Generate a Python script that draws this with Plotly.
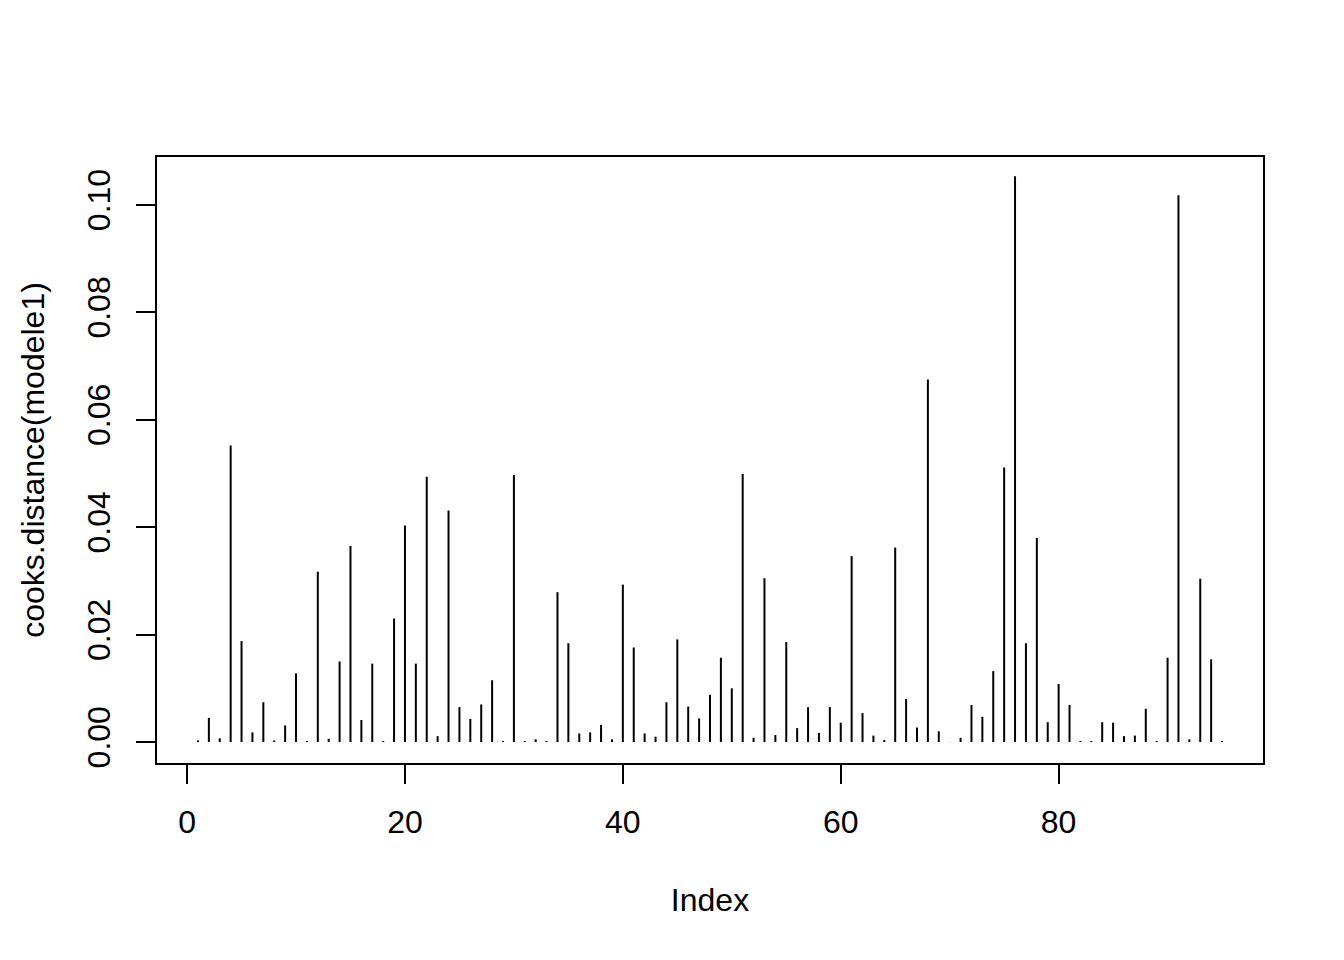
import plotly.graph_objects as go

index = list(range(1, 96))
cooks = [
    0.0003, 0.0045, 0.0007, 0.0552, 0.0188, 0.0018, 0.0074, 0.0003, 0.0031, 0.0128,
    0.0002, 0.0317, 0.0006, 0.0150, 0.0365, 0.0041, 0.0146, 0.0002, 0.0230, 0.0403,
    0.0146, 0.0494, 0.0011, 0.0431, 0.0065, 0.0043, 0.0070, 0.0115, 0.0002, 0.0497,
    0.0002, 0.0005, 0.0002, 0.0279, 0.0184, 0.0016, 0.0018, 0.0032, 0.0005, 0.0293,
    0.0176, 0.0016, 0.0010, 0.0074, 0.0191, 0.0066, 0.0044, 0.0088, 0.0157, 0.0100,
    0.0499, 0.0008, 0.0305, 0.0013, 0.0186, 0.0026, 0.0065, 0.0017, 0.0065, 0.0036,
    0.0346, 0.0054, 0.0012, 0.0004, 0.0362, 0.0080, 0.0027, 0.0675, 0.0020, 0.00003,
    0.0008, 0.0069, 0.0047, 0.0132, 0.0511, 0.1053, 0.0184, 0.0380, 0.0037, 0.0108,
    0.0069, 0.0002, 0.0002, 0.0037, 0.0036, 0.0011, 0.0012, 0.0062, 0.0002, 0.0157,
    0.1018, 0.0005, 0.0304, 0.0154, 0.0002,
]
x_ticks = [0, 20, 40, 60, 80]
y_ticks = [0.00, 0.02, 0.04, 0.06, 0.08, 0.10]
x_label = "Index"
y_label = "cooks.distance(modele1)"

xs, ys = [], []
for i, v in zip(index, cooks):
    xs += [i, i, None]
    ys += [0, v, None]

fig = go.Figure(go.Scatter(x=xs, y=ys, mode="lines",
                           line=dict(color="black", width=2),
                           hoverinfo="skip", showlegend=False))

font = dict(family="Liberation Sans, Arial, Helvetica, sans-serif", size=32, color="black")
axis_common = dict(showline=True, mirror=True, linecolor="black", linewidth=1.8,
                   ticks="outside", ticklen=19, tickwidth=1.8, tickcolor="black",
                   showgrid=False, zeroline=False, tickfont=font)

fig.update_layout(
    width=1344, height=960,
    margin=dict(l=149, r=89, t=149, b=205),
    paper_bgcolor="white", plot_bgcolor="white",
    font=font,
    xaxis=dict(range=[-2.76, 98.76], tickvals=x_ticks, ticktext=[str(t) for t in x_ticks],
               ticklabelstandoff=11,
               title=dict(text=x_label, font=font, standoff=49), **axis_common),
    yaxis=dict(range=[-0.0039, 0.1089], tickvals=y_ticks, ticktext=[f"{t:.2f}" for t in y_ticks],
               tickangle=-90, ticklabelstandoff=13,
               title=dict(text=y_label, font=font, standoff=27), **axis_common),
)

fig.write_html("out.html")
